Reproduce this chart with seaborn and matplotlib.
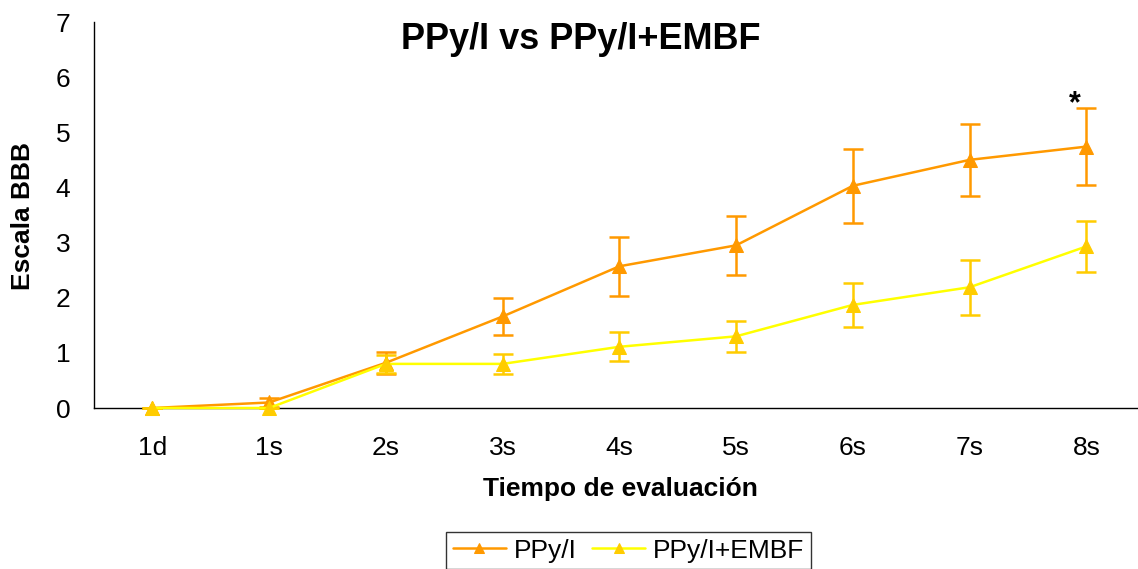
import numpy as np
import pandas as pd
import matplotlib
matplotlib.use("Agg")
import matplotlib.pyplot as plt
import seaborn as sns

categories = ["1d", "1s", "2s", "3s", "4s", "5s", "6s", "7s", "8s"]
ppy_mean = [0.0, 0.10, 0.82, 1.66, 2.57, 2.95, 4.03, 4.50, 4.74]
ppy_err = [0.0, 0.09, 0.20, 0.33, 0.53, 0.54, 0.67, 0.65, 0.70]
embf_mean = [0.0, 0.0, 0.80, 0.80, 1.11, 1.30, 1.87, 2.19, 2.93]
embf_err = [0.0, 0.0, 0.17, 0.18, 0.26, 0.28, 0.40, 0.50, 0.47]
series_names = ["PPy/I", "PPy/I+EMBF"]

df = pd.DataFrame({
    "tiempo": categories * 2,
    "valor": ppy_mean + embf_mean,
    "grupo": [series_names[0]] * len(categories) + [series_names[1]] * len(categories),
})

sns.set_style("white")
plt.rcParams["font.family"] = ["Liberation Sans", "DejaVu Sans"]
plt.rcParams["text.color"] = "black"
plt.rcParams["axes.labelcolor"] = "black"
plt.rcParams["xtick.color"] = "black"
plt.rcParams["ytick.color"] = "black"

W, H = 1138, 569
fig = plt.figure(figsize=(W / 100, H / 100), dpi=100)
ax = fig.add_axes([94 / W, 161 / H, 1050.75 / W, 386 / H])

orange = "#FF9900"
yellow_line = "#FFFF00"
yellow_mark = "#FFCC00"

d1 = df[df.grupo == series_names[0]]
d2 = df[df.grupo == series_names[1]]

sns.lineplot(data=d1, x="tiempo", y="valor", ax=ax, color=orange, lw=1.8,
             marker="^", markersize=10, markerfacecolor=orange, markeredgecolor=orange,
             label=series_names[0], clip_on=False, zorder=3, sort=False)
ax.errorbar(categories, ppy_mean, yerr=ppy_err, fmt="none", ecolor=orange,
            elinewidth=1.8, capsize=7, capthick=1.8, zorder=2, clip_on=False,
            label="_nolegend_")

sns.lineplot(data=d2, x="tiempo", y="valor", ax=ax, color=yellow_line, lw=1.8,
             marker="^", markersize=10, markerfacecolor=yellow_mark, markeredgecolor=yellow_mark,
             label=series_names[1], clip_on=False, zorder=5, sort=False)
ax.errorbar(categories, embf_mean, yerr=embf_err, fmt="none", ecolor=yellow_mark,
            elinewidth=1.8, capsize=7, capthick=1.8, zorder=4, clip_on=False,
            label="_nolegend_")

ax.set_xlim(-0.5, 8.5)
ax.set_ylim(0, 7)
ax.set_yticks(range(0, 8))

ax.set_xticks(np.arange(len(categories)))
ax.set_xticklabels(categories)
ax.set_xticks(np.arange(-0.5, len(categories), 1), minor=True)
ax.tick_params(axis="x", which="major", length=0, pad=20, labelsize=19, labelcolor="black")
ax.tick_params(axis="x", which="minor", length=9, width=1, color="black", direction="out")
ax.tick_params(axis="y", which="major", length=9, width=1, color="black",
               direction="out", pad=8, labelsize=19, labelcolor="black")

for s in ["top", "right"]:
    ax.spines[s].set_visible(False)
for s in ["left", "bottom"]:
    ax.spines[s].set_color("black")
    ax.spines[s].set_linewidth(1)
ax.grid(False)

ax.set_xlabel("Tiempo de evaluación", fontsize=19, fontweight="bold", color="black")
ax.xaxis.label.set_va("baseline")
ax.xaxis.set_label_coords((620 - 94) / 1050.75, -(496 - 408) / 386)
ax.set_ylabel("Escala BBB", fontsize=19, fontweight="bold", color="black")
ax.yaxis.label.set_va("baseline")
ax.yaxis.set_label_coords((30 - 94) / 1050.75, (408 - 216) / 386)

ax.set_title("PPy/I vs PPy/I+EMBF", fontsize=26, fontweight="bold", color="black",
             x=(581 - 94) / 1050.75, y=(408 - 49) / 386, pad=0)

ax.text(7.9, 5.36, "*", fontsize=22, fontweight="bold", ha="center", va="baseline", color="black")

handles, labels = ax.get_legend_handles_labels()
if ax.get_legend() is not None:
    ax.get_legend().remove()
leg = fig.legend(handles, labels, loc="upper center", bbox_to_anchor=(628.5 / W, 1 - 532 / H),
                 ncol=2, frameon=True, fontsize=19, handlelength=2.0, handletextpad=0.3,
                 columnspacing=0.6, borderpad=0.25, borderaxespad=0, fancybox=False)
leg.get_frame().set_edgecolor("black")
leg.get_frame().set_linewidth(1)
for lh in leg.get_lines():
    lh.set_markersize(7)
for t in leg.get_texts():
    t.set_color("black")

fig.savefig("out.png", dpi=100)
